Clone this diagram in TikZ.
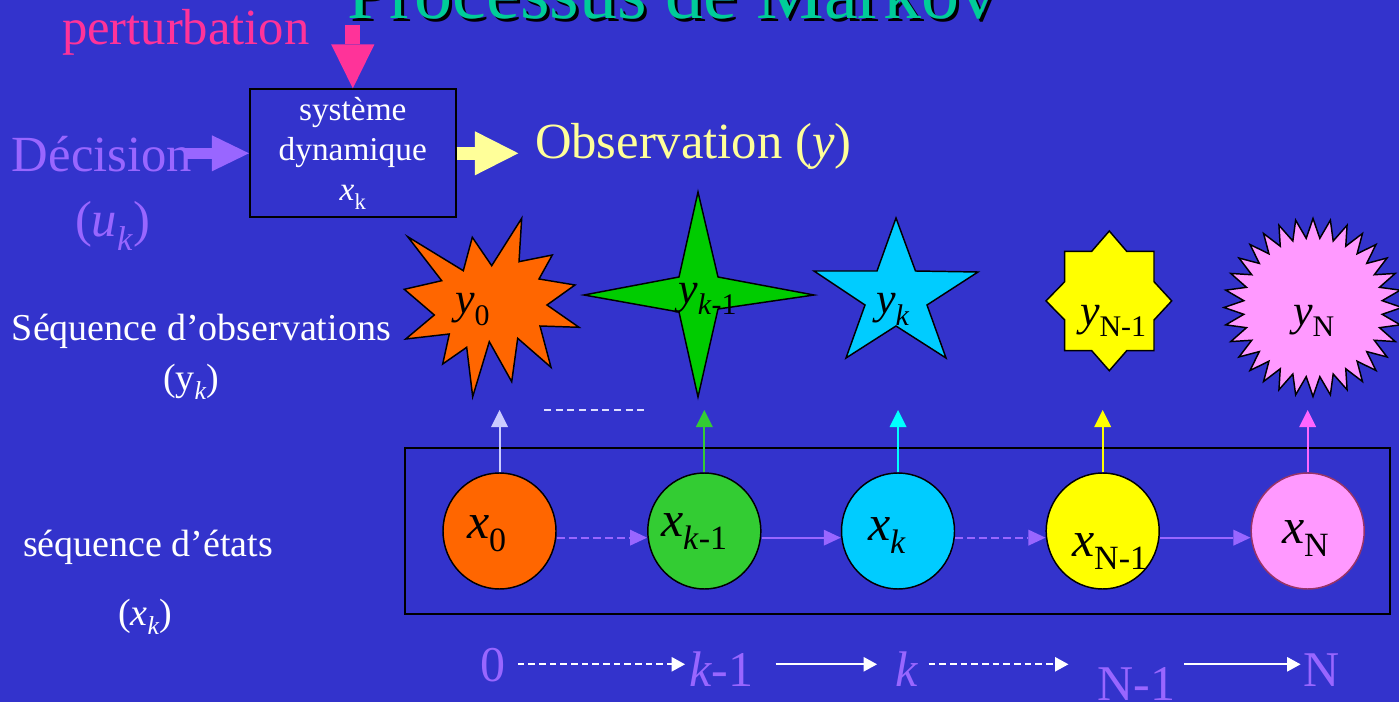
\documentclass[tikz,border=0pt]{standalone}
\usepackage{fontspec}
\usepackage{graphicx}
\setmainfont{Liberation Serif}
\usetikzlibrary{arrows.meta,shapes.geometric}
\definecolor{bg}{HTML}{3333CC}
\definecolor{titlec}{HTML}{00CC99}
\definecolor{pertc}{HTML}{FF3399}
\definecolor{decc}{HTML}{9966FF}
\definecolor{obsc}{HTML}{FFFF99}
\definecolor{orangec}{HTML}{FF6600}
\definecolor{greenstar}{HTML}{00CC00}
\definecolor{greencirc}{HTML}{33CC33}
\definecolor{cyanc}{HTML}{00CCFF}
\definecolor{cyanarr}{HTML}{00FFFF}
\definecolor{yellowc}{HTML}{FFFF00}
\definecolor{pinkc}{HTML}{FF99FF}
\definecolor{pinkborder}{HTML}{993366}
\definecolor{pinkarr}{HTML}{FF66FF}
\definecolor{lavarr}{HTML}{CCCCFF}
\definecolor{dashc}{HTML}{DDDDFF}
\newcommand\subs[1]{\raisebox{-0.26em}{\scalebox{0.68}{#1}}}
\begin{document}
\begin{tikzpicture}[x=0.75pt,y=-0.75pt,
  txt/.style={anchor=base west, inner sep=0pt, outer sep=0pt},
  bigfont/.style={font=\fontsize{38}{40}\selectfont},
  midfont/.style={font=\fontsize{28.5}{30}\selectfont},
  yfont/.style={font=\fontsize{33}{36}\selectfont},
  xfont/.style={font=\fontsize{37.5}{40}\selectfont},
  shapeline/.style={draw=black, line width=1.1pt, line join=miter},
  statenode/.style={ellipse, draw=black, line width=1.1pt, minimum width=84.75pt, minimum height=87pt, inner sep=0pt},
  uparrow/.style={line width=1.5pt, -{Triangle[length=12.75pt,width=12.75pt,line width=0pt]}},
  chainarrow/.style={decc, line width=1.5pt, -{Triangle[length=12.75pt,width=12pt,line width=0pt]}},
  timearrow/.style={white, line width=1.5pt, -{Triangle[length=10pt,width=11pt,line width=0pt]}},
  dashpat/.style={dash pattern=on 5pt off 3pt}
]
\useasboundingbox (0,0) rectangle (1399,702);
\fill[bg] (0,0) rectangle (1399,702);

% title (cut off at the top)
\node[txt, text=black, font=\fontsize{57}{60}\selectfont] (titleshadow) at (350,22) {Processus de Markov};
\node[txt, text=titlec, font=\fontsize{57}{60}\selectfont] (title) at (347,19) {Processus de Markov};

% system block
\node[draw=black, line width=1.5pt, minimum width=154.3pt, minimum height=96pt, inner sep=0pt,
      align=center, text=white, font=\fontsize{25}{30}\selectfont] (sys) at (352.8,153.3)
      {système\\dynamique\\\textit{x}\subs{k}};

\node[txt, bigfont, text=pertc] (pert) at (62,45) {perturbation};
\coordinate (pertstart) at (352.8,25);
\draw[pertc, line width=11.25pt, -{Triangle[length=33pt,width=32.5pt,line width=0pt]}] (pertstart) -- (sys.north);

\node[txt, bigfont, text=decc] (dec) at (12,171.7) {Décision};
\node[txt, bigfont, text=decc] (uk) at (75,237) {(\textit{u}\subs{\textit{k}})};
\coordinate (decstart) at (185,153.3);
\draw[decc, line width=8.5pt, -{Triangle[length=27.75pt,width=27pt,line width=0pt]}] (decstart) -- (sys.west);

\coordinate (obsend) at (518.3,153.3);
\draw[obsc, line width=10pt, -{Triangle[length=32.5pt,width=33pt,line width=0pt]}] (sys.east) -- (obsend);
\node[txt, bigfont, text=obsc] (obs) at (535,159) {Observation (\textit{y})};

% left labels
\node[txt, midfont, text=white] (seqobs) at (12,340) {Séquence d’observations};
\node[txt, midfont, text=white] (seqobsk) at (163,390) {(y\subs{\textit{k}})};
\node[txt, midfont, text=white] (seqet) at (23,556.7) {séquence d’états};
\node[txt, midfont, text=white] (seqetk) at (118,625) {(\textit{x}\subs{\textit{k}})};

% observation shapes
\filldraw[shapeline, fill=orangec] (521.7,218.3) -- (519,261.7) -- (552.3,255) -- (539,279) -- (575,285) -- (547,305) -- (579,327.3) -- (540,326) -- (551,367.3) -- (517.7,338.3) -- (511.7,381.7) -- (489.3,341.7) -- (472.7,396.7) -- (466.7,347.3) -- (442.7,364) -- (449.3,334) -- (405.7,339) -- (434.3,315) -- (404.3,289.3) -- (441.7,280.7) -- (407.7,236.7) -- (463.3,270.7) -- (472.3,237.3) -- (491.7,265.7) -- cycle;
\filldraw[shapeline, fill=greenstar] (698,192) -- (718,277) -- (814,295) -- (718,309) -- (698,397) -- (679,312) -- (584,295) -- (679,277) -- cycle;
\filldraw[shapeline, fill=cyanc] (896,218) -- (915.5,271) -- (978,272) -- (927,305) -- (946,358) -- (896,326) -- (846,358) -- (865,305) -- (814,271) -- (877,271) -- cycle;
\filldraw[shapeline, fill=yellowc] (1109.3,231) -- (1126.7,251.3) -- (1154,251.3) -- (1154,281.7) -- (1171.7,300.9) -- (1154,320) -- (1154,350.7) -- (1126.7,350.7) -- (1109.3,370.7) -- (1091.7,350.7) -- (1064.7,350.7) -- (1064.7,320) -- (1046,300.9) -- (1064.7,281.7) -- (1064.7,251.3) -- (1091.7,251.3) -- cycle;
\filldraw[shapeline, fill=pinkc] plot[variable=\t, samples at={0,...,63}]
  ({1313+(89-19.5*mod(\t,2))*cos(90+5.625*\t)}, {307.5-(89-19.5*mod(\t,2))*sin(90+5.625*\t)}) -- cycle;

\node[txt, yfont] (ly0) at (455,313.6) {\textit{y}\subs{0}};
\node[txt, yfont] (lyk1) at (678.4,303) {\textit{y}\subs{\textit{k}-1}};
\node[txt, yfont] (lyk) at (876,313.6) {\textit{y}\subs{\textit{k}}};
\node[txt, yfont] (lyN1) at (1080,325.3) {\textit{y}\subs{N-1}};
\node[txt, yfont] (lyN) at (1293,325.5) {\textit{y}\subs{N}};

\draw[dashc, line width=1.3pt, dash pattern=on 5.25pt off 3.5pt] (544,410) -- (648,410);

% state chain
\draw[black, line width=1.5pt] (404.5,448.3) rectangle (1389.5,614);
\node[statenode, fill=orangec] (c0) at (499.5,531) {};
\node[statenode, fill=greencirc] (c1) at (704.3,531) {};
\node[statenode, fill=cyanc] (c2) at (898,531) {};
\node[statenode, fill=yellowc] (c3) at (1102.7,531) {};
\node[statenode, fill=pinkc, draw=pinkborder] (c4) at (1307.7,531) {};

\node[txt, xfont] (lx0) at (467,538) {\textit{x}\subs{0}};
\node[txt, xfont] (lx1) at (661,536.7) {\textit{x}\subs{\textit{k}-1}};
\node[txt, xfont] (lx2) at (868,540) {\textit{x}\subs{\textit{k}}};
\node[txt, xfont] (lx3) at (1072,556.7) {\textit{x}\subs{N-1}};
\node[txt, xfont] (lx4) at (1282,543.3) {\textit{x}\subs{N}};

\draw[chainarrow, dash pattern=on 6pt off 3pt] ([yshift=-5pt]c0.east) -- ([yshift=-5pt]c1.west);
\draw[chainarrow] ([yshift=-5pt]c1.east) -- ([yshift=-5pt]c2.west);
\draw[chainarrow, dash pattern=on 6pt off 3pt] ([yshift=-5pt]c2.east) -- ([yshift=-5pt]c3.west);
\draw[chainarrow] ([yshift=-5pt]c3.east) -- ([yshift=-5pt]c4.west);

\coordinate (u0) at (499.5,410);
\coordinate (u1) at (704.3,410);
\coordinate (u2) at (898,410);
\coordinate (u3) at (1102.7,410);
\coordinate (u4) at (1307.7,410);
\draw[uparrow, lavarr] (c0.north) -- (u0);
\draw[uparrow, greencirc] (c1.north) -- (u1);
\draw[uparrow, cyanarr] (c2.north) -- (u2);
\draw[uparrow, yellowc] (c3.north) -- (u3);
\draw[uparrow, pinkarr] (c4.north) -- (u4);

% time axis
\node[txt, xfont, text=decc] (b0) at (480,681.7) {0};
\node[txt, xfont, text=decc] (bk1) at (689,686.7) {\textit{k}-1};
\node[txt, xfont, text=decc] (bk) at (895,686.7) {\textit{k}};
\node[txt, xfont, text=decc] (bN1) at (1097.7,700) {N-1};
\node[txt, xfont, text=decc] (bN) at (1303.5,686.7) {N};
\coordinate (brow) at (0,664.3);
\draw[timearrow, dashpat, shorten <=9.6pt, shorten >=3pt] (b0.east |- brow) -- (bk1.west |- brow);
\draw[timearrow, shorten <=16.5pt, shorten >=13.5pt] (bk1.east |- brow) -- (bk.west |- brow);
\draw[timearrow, dashpat, shorten <=8pt, shorten >=22pt] (bk.east |- brow) -- (bN1.west |- brow);
\draw[timearrow, shorten <=6.4pt, shorten >=2.25pt] (bN1.east |- brow) -- (bN.west |- brow);
\end{tikzpicture}
\end{document}
